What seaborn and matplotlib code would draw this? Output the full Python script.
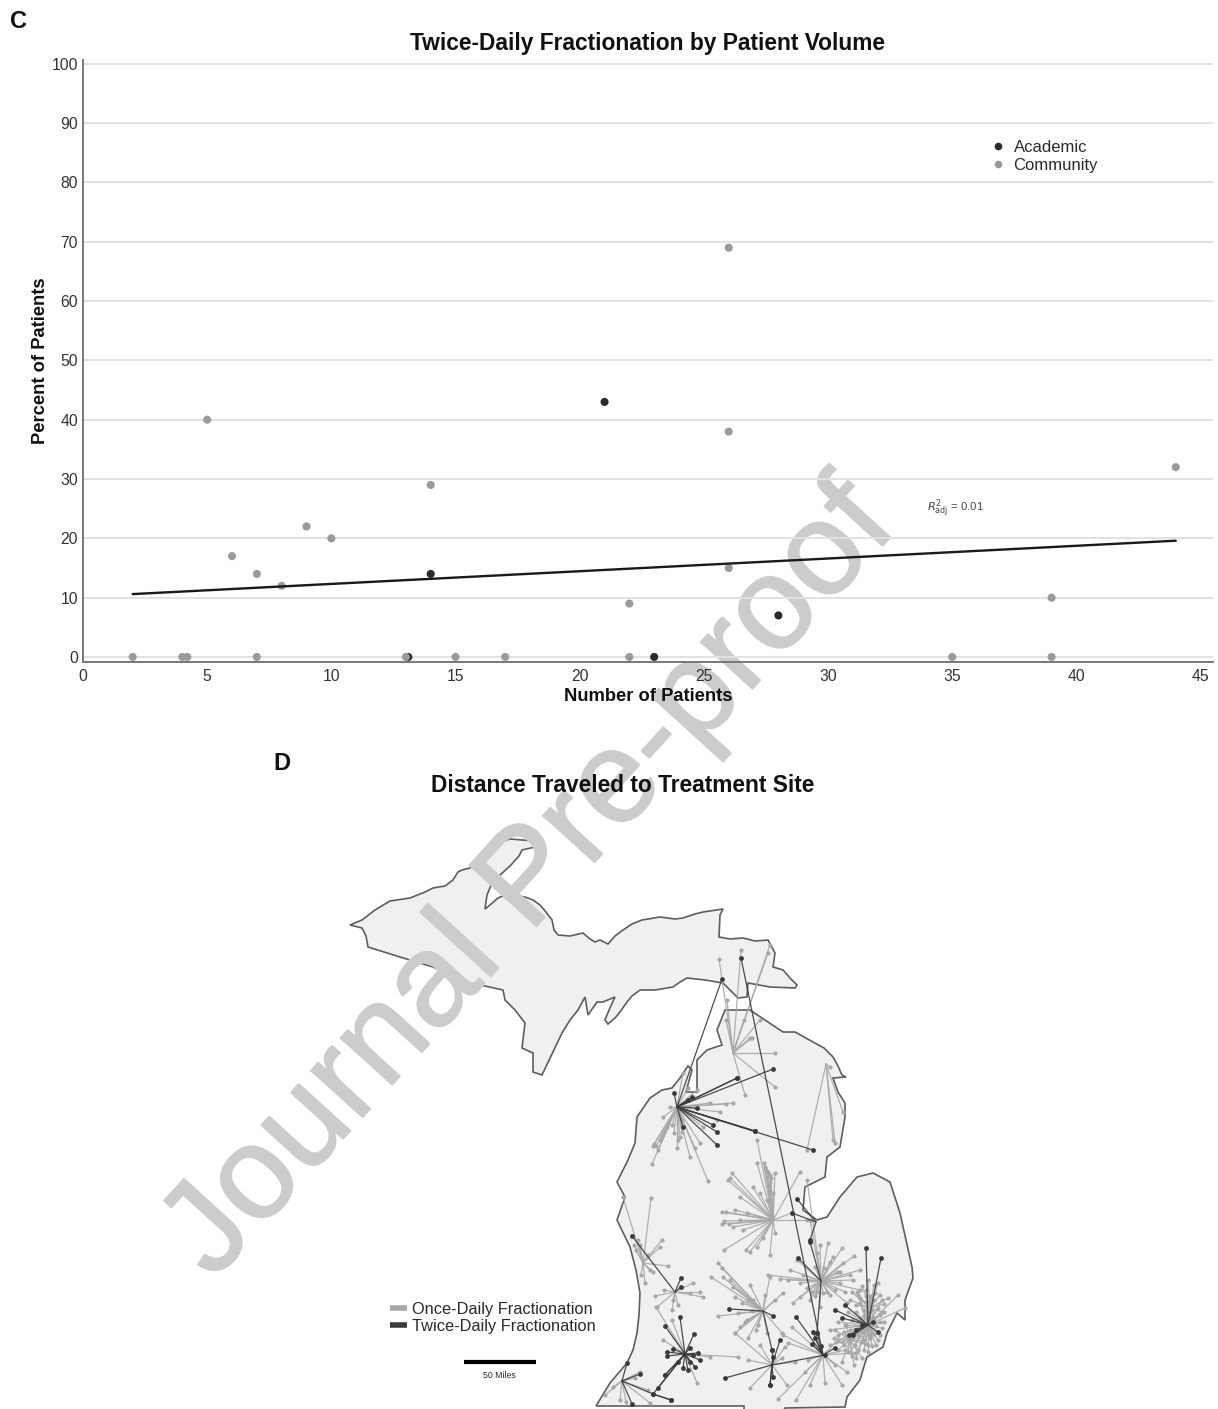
# Twice-daily fractionation: volume scatter (C) and travel map (D)

import numpy as np
import pandas as pd
import matplotlib
matplotlib.use('Agg')
import matplotlib.pyplot as plt
import matplotlib.patheffects as pe
import seaborn as sns
from matplotlib.lines import Line2D

# --- panel C data ---
academic_n = [13.1, 14, 21, 23, 28]
academic_pct = [0, 14, 43, 0, 7]
community_n = [2, 4, 4.2, 5, 6, 7, 7, 8, 9, 10, 13, 14, 15, 17, 22, 22, 26, 26, 26, 35, 39, 39, 44]
community_pct = [0, 0, 0, 40, 17, 14, 0, 12, 22, 20, 0, 29, 0, 0, 9, 0, 69, 38, 15, 0, 10, 0, 32]
fit_n = [2, 44]
fit_pct = [10.6, 19.6]
x_ticks = [0, 5, 10, 15, 20, 25, 30, 35, 40, 45]
y_ticks = [0, 10, 20, 30, 40, 50, 60, 70, 80, 90, 100]

# --- panel D data (map coordinates) ---
upper_peninsula = [
    (350, 925), (362, 920), (375, 910), (390, 901), (410, 898), (425, 892), (433, 888), (445, 886), (453, 880),
    (458, 872), (462, 870), (470, 868), (477, 862), (483, 852), (490, 847), (500, 842), (510, 839),
    (535, 841), (535, 847), (522, 850), (519, 856), (510, 866), (500, 875), (492, 883), (487, 895), (485, 909),
    (490, 905), (498, 898), (505, 895), (525, 897), (533, 900), (540, 905), (546, 912), (552, 920), (554, 930),
    (558, 935), (570, 936), (583, 933), (590, 939), (595, 942), (600, 940), (608, 944), (615, 936), (623, 930),
    (632, 924), (642, 920), (660, 917), (675, 919), (683, 918), (695, 914), (703, 912), (723, 909),
    (720, 915), (719, 937), (730, 939), (743, 938), (755, 941), (768, 940), (775, 953), (773, 967), (783, 970),
    (790, 978), (797, 985), (795, 988), (770, 987), (748, 983), (747, 997), (738, 998), (730, 990), (723, 983),
    (705, 980), (687, 978), (680, 982), (673, 987), (655, 990), (640, 990), (632, 996), (627, 1002),
    (620, 1012), (615, 1018), (608, 1024), (605, 1020), (609, 1010), (615, 997), (603, 1002), (597, 1002),
    (588, 1015), (585, 997), (578, 1010), (570, 1020),
    (562, 1033), (552, 1054), (542, 1075), (533, 1072), (533, 1053), (522, 1048), (525, 1023), (515, 1010),
    (505, 1000), (503, 990), (485, 986), (467, 983), (450, 976), (433, 967), (400, 957), (368, 947), (366, 936),
    (362, 928),
]
lower_peninsula = [
    (750, 1010), (765, 1020), (783, 1032), (795, 1032), (813, 1042), (824, 1048), (833, 1057), (838, 1066),
    (842, 1075), (846, 1077), (833, 1078), (838, 1092), (845, 1103),
    (845, 1117), (842, 1135), (840, 1147), (827, 1157), (825, 1177), (805, 1187), (803, 1210), (817, 1220),
    (827, 1217), (840, 1197),
    (857, 1177), (873, 1173), (890, 1182), (900, 1213), (912, 1267), (913, 1278), (905, 1300), (905, 1320),
    (897, 1313), (887, 1333), (883, 1347), (867, 1357), (865, 1363), (860, 1380), (847, 1397), (845, 1407),
    (785, 1408), (783, 1412), (744, 1412), (744, 1406), (596, 1406), (610, 1383), (627, 1363), (633, 1350),
    (637, 1333), (639, 1315),
    (640, 1293), (636, 1270), (630, 1247), (617, 1220), (625, 1197), (617, 1182), (628, 1160), (635, 1143),
    (637, 1117), (650, 1098), (662, 1090), (672, 1088), (680, 1078), (688, 1066), (692, 1070), (686, 1092),
    (697, 1092), (697, 1060), (707, 1050), (722, 1045), (717, 1030), (725, 1010),
]

traverse_hub = (677, 1107)
traverse_once = [(733, 1103), (720, 1112), (708, 1181), (690, 1157), (677, 1148), (652, 1164), (653, 1146), (663, 1117),
                 (680, 1137), (695, 1148), (688, 1088), (683, 1073), (670, 1107), (667, 1127), (660, 1140), (682, 1120),
                 (697, 1090), (710, 1103), (678, 1140), (717, 1120), (703, 1127), (658, 1150), (672, 1125),
                 (656, 1146), (654, 1144), (664, 1132), (662, 1136), (674, 1133), (682, 1132), (700, 1143), (726, 1104)]
traverse_twice = [(773, 1069), (737, 1078), (688, 1100), (697, 1108), (755, 1131), (813, 1150), (717, 1132),
                  (717, 1145), (683, 1127), (674, 1093), (722, 979), (755, 1131), (737, 1078), (713, 1125), (692, 1097)]
petoskey_hub = (733, 1053)
petoskey_once = [(775, 1053), (775, 1087), (745, 1095), (752, 1038), (727, 1000), (719, 959), (768, 953), (741, 950),
                 (770, 945), (750, 1038), (760, 1020), (726, 1020), (744, 1020)]
alpena_hub = (826, 1064)
alpena_once = [(843, 1112), (835, 1143), (830, 1067), (833, 1140), (807, 1150)]
midland_hub = (773, 1220)
midland_once = [(757, 1163), (765, 1167), (775, 1173), (767, 1177), (732, 1173), (728, 1180), (735, 1210), (722, 1212),
                (722, 1224), (724, 1250), (750, 1252), (757, 1247), (770, 1255), (775, 1233), (763, 1238), (743, 1230),
                (800, 1172), (760, 1193), (753, 1187), (770, 1182), (773, 1193), (740, 1197), (747, 1213), (733, 1227),
                (807, 1220), (792, 1213), (757, 1140), (767, 1200), (766, 1170), (768, 1172), (770, 1175), (771, 1178),
                (764, 1163), (769, 1185), (726, 1212), (729, 1224), (724, 1221), (746, 1250), (740, 1220), (730, 1178)]
saginaw_hub = (821, 1281)
saginaw_once = [(768, 1275), (780, 1279), (820, 1245), (842, 1248), (854, 1256), (843, 1263), (860, 1270), (853, 1280),
                (860, 1290), (840, 1283), (847, 1303), (820, 1307), (810, 1300), (800, 1297), (793, 1303), (797, 1260),
                (833, 1257), (828, 1243), (803, 1275), (790, 1270), (817, 1292), (823, 1293), (830, 1295), (815, 1267),
                (837, 1272), (817, 1253), (810, 1220), (807, 1180), (812, 1292), (815, 1296), (827, 1292), (835, 1290),
                (845, 1292), (850, 1275), (840, 1272), (788, 1280), (800, 1283), (807, 1288), (824, 1268), (830, 1262)]
saginaw_twice = [(810, 1242), (798, 1258), (817, 1333)]
baycity_hub = (816, 1222)
baycity_twice = [(797, 1199), (792, 1213), (810, 1240)]
muskegon_hub = (643, 1263)
muskegon_once = [(623, 1197), (651, 1198), (662, 1240), (660, 1247), (668, 1266), (645, 1283), (653, 1272), (640, 1245),
                 (636, 1250), (648, 1255), (650, 1270), (638, 1240), (634, 1245), (641, 1275)]
grandrapids_hub = (675, 1292)
grandrapids_once = [(655, 1296), (703, 1297), (693, 1283), (700, 1292), (673, 1300), (678, 1305), (657, 1307),
                    (664, 1290), (690, 1293), (672, 1310)]
grandrapids_twice = [(681, 1278), (681, 1287), (632, 1236)]
kalamazoo_hub = (685, 1354)
kalamazoo_once = [(738, 1357), (697, 1383), (663, 1340), (656, 1307), (672, 1320), (710, 1357)]
kalamazoo_twice = [(680, 1317), (665, 1326), (694, 1334), (673, 1349), (667, 1352), (667, 1356), (690, 1348),
                   (700, 1360), (693, 1355), (688, 1370), (683, 1368), (695, 1367), (665, 1375), (653, 1394),
                   (665, 1375), (658, 1388), (678, 1362), (690, 1362), (698, 1353)]
benton_hub = (622, 1381)
benton_once = [(620, 1400), (613, 1387), (648, 1390), (650, 1403), (635, 1378), (640, 1372), (626, 1402), (605, 1395)]
benton_twice = [(640, 1374), (627, 1363), (653, 1394), (632, 1404)]
southwest_hub = (653, 1394)
southwest_twice = [(671, 1400), (671, 1400)]
lansing_hub = (763, 1311)
lansing_once = [(718, 1263), (711, 1277), (723, 1277), (718, 1316), (735, 1333), (748, 1338), (740, 1327), (747, 1320),
                (738, 1313), (742, 1303), (750, 1285), (765, 1295), (770, 1277), (733, 1287), (753, 1300), (767, 1333),
                (782, 1333), (783, 1293), (756, 1330), (752, 1311), (722, 1268), (730, 1280), (745, 1322), (758, 1325),
                (735, 1297), (748, 1300), (775, 1300)]
lansing_twice = [(729, 1309), (773, 1316), (772, 1350)]
jackson_hub = (772, 1365)
jackson_once = [(785, 1347), (750, 1388), (787, 1385), (748, 1360), (795, 1362), (735, 1333), (760, 1345), (782, 1358)]
jackson_twice = [(725, 1378), (770, 1385), (773, 1377), (773, 1357), (772, 1350), (780, 1340), (770, 1385), (825, 1355)]
annarbor_hub = (823, 1355)
annarbor_once = [(825, 1383), (842, 1385), (796, 1400), (778, 1399), (805, 1372), (847, 1372), (792, 1327), (783, 1335),
                 (788, 1343), (808, 1360), (835, 1365), (810, 1385), (838, 1340), (845, 1350), (855, 1353)]
annarbor_twice = [(741, 958), (796, 1317), (815, 1338), (821, 1346), (812, 1344), (835, 1348), (817, 1333), (813, 1332)]
detroit_hub = (868, 1325)
detroit_once = [(898, 1295), (905, 1308), (882, 1300), (857, 1292), (860, 1303), (880, 1315), (884, 1322), (880, 1335),
                (876, 1345), (864, 1350), (855, 1345), (845, 1325), (838, 1335), (830, 1330), (848, 1312), (852, 1320),
                (860, 1318), (872, 1310), (878, 1308), (866, 1302), (870, 1338), (858, 1335), (842, 1342), (876, 1326),
                (862, 1332), (856, 1358), (850, 1352), (884, 1312), (874, 1300), (868, 1312), (862, 1342), (838, 1322),
                (878, 1340), (874, 1334), (882, 1328), (866, 1344), (852, 1338), (846, 1336), (836, 1342), (872, 1318),
                (864, 1310), (856, 1312), (850, 1330), (844, 1345), (858, 1350), (868, 1352), (872, 1346), (880, 1322)]
detroit_twice = [(866, 1248), (881, 1258), (878, 1332), (849, 1335), (853, 1335), (862, 1325), (842, 1318), (835, 1310),
                 (856, 1330), (845, 1305), (873, 1322)]
flint_hub = (870, 1308)
flint_once = [(866, 1290), (874, 1285), (860, 1298), (880, 1295), (856, 1305), (868, 1280), (850, 1300), (884, 1304),
              (866, 1296), (862, 1286), (870, 1296), (875, 1293), (858, 1295), (888, 1298), (878, 1283), (852, 1292),
              (866, 1302), (864, 1316), (874, 1318), (882, 1312), (872, 1332), (860, 1328)]
dearborn_hub = (850, 1340)
dearborn_once = [(834, 1338), (838, 1350), (842, 1362), (854, 1365), (862, 1358), (868, 1345), (870, 1335), (860, 1328),
                 (846, 1325), (835, 1330), (858, 1350), (852, 1356), (844, 1332), (830, 1345), (864, 1340), (848, 1352)]

hubs_once = [(traverse_hub, traverse_once), (petoskey_hub, petoskey_once), (alpena_hub, alpena_once),
             (midland_hub, midland_once), (saginaw_hub, saginaw_once), (muskegon_hub, muskegon_once),
             (grandrapids_hub, grandrapids_once), (kalamazoo_hub, kalamazoo_once), (benton_hub, benton_once),
             (lansing_hub, lansing_once), (jackson_hub, jackson_once), (annarbor_hub, annarbor_once),
             (detroit_hub, detroit_once), (flint_hub, flint_once), (dearborn_hub, dearborn_once)]
hubs_twice = [(traverse_hub, traverse_twice), (saginaw_hub, saginaw_twice), (baycity_hub, baycity_twice),
              (grandrapids_hub, grandrapids_twice), (kalamazoo_hub, kalamazoo_twice),
              (benton_hub, benton_twice), (southwest_hub, southwest_twice), (lansing_hub, lansing_twice),
              (jackson_hub, jackson_twice), (annarbor_hub, annarbor_twice), (detroit_hub, detroit_twice)]

sns.set_theme(style="white")
plt.rcParams['font.family'] = ['Liberation Sans', 'DejaVu Sans']

W, H = 1218, 1409
TEXT = '#2a2a2a'
ONCE = '#a8a8a8'
TWICE = '#3a3a3a'
fig = plt.figure(figsize=(W / 100, H / 100), dpi=100)

# map layer uses picture coordinates over the whole figure
mp = fig.add_axes([0, 0, 1, 1])
mp.set_xlim(0, W)
mp.set_ylim(H, 0)
mp.axis('off')

for shape in (upper_peninsula, lower_peninsula):
    xs, ys = zip(*shape)
    mp.fill(xs, ys, facecolor='#f0f0f0', edgecolor='#5e5e5e', linewidth=1.2, zorder=1)

# watermark sits on the land fill, under the marks and the text
mp.text(531, 881, 'Journal Pre-proof', fontsize=95, color='#cccccc', rotation=47.7,
        rotation_mode='anchor', ha='center', va='center', zorder=1.5,
        path_effects=[pe.withStroke(linewidth=1.2, foreground='#cccccc')])


def segments(groups):
    rows = []
    for i, (hub, ends) in enumerate(groups):
        for j, end in enumerate(ends):
            rows.append({'seg': f'{i}-{j}', 'x': hub[0], 'y': hub[1], 'hub': True})
            rows.append({'seg': f'{i}-{j}', 'x': end[0], 'y': end[1], 'hub': False})
    return pd.DataFrame(rows)


once_df = segments(hubs_once)
twice_df = segments(hubs_twice)

for df, col, lw, ms, z in [(once_df, ONCE, 0.9, 9, 2), (twice_df, TWICE, 0.9, 12, 3)]:
    for _, seg in df.groupby('seg'):
        mp.plot(seg['x'], seg['y'], color=col, lw=lw, alpha=0.9, zorder=z)
    sns.scatterplot(data=df[~df['hub']], x='x', y='y', ax=mp, color=col, s=ms, linewidth=0, zorder=z, legend=False)
mp.set_xlim(0, W)
mp.set_ylim(H, 0)
mp.axis('off')

map_keys = [Line2D([], [], color=ONCE, lw=4, solid_capstyle='butt'),
            Line2D([], [], color=TWICE, lw=4, solid_capstyle='butt')]
mp.legend(map_keys, ['Once-Daily Fractionation', 'Twice-Daily Fractionation'], frameon=False,
          loc='upper left', bbox_to_anchor=(390 / W, 1 - 1302 / H), fontsize=11.8, labelcolor=TEXT,
          handlelength=1.05, handletextpad=0.3, labelspacing=0.1, borderpad=0, borderaxespad=0)

mp.plot([464, 536], [1362, 1362], color='black', lw=3, solid_capstyle='butt', zorder=4)
mp.text(499, 1375, '50 Miles', fontsize=6.3, color=TEXT, ha='center', va='center')
mp.text(10, 22, 'C', fontsize=17, fontweight='bold', color='#111111', va='center')
mp.text(273, 763, 'D', fontsize=17, fontweight='bold', color='#111111', va='center')
mp.text(623, 785, 'Distance Traveled to Treatment Site', fontsize=16.35, fontweight='bold', color='#111111',
        ha='center', va='center')

# panel C
ax = fig.add_axes([83 / W, 1 - 662 / H, (1213 - 83) / W, (662 - 60) / H])
ax.patch.set_alpha(0)
scatter_df = pd.DataFrame({
    'n': academic_n + community_n,
    'pct': academic_pct + community_pct,
    'type': ['Academic'] * len(academic_n) + ['Community'] * len(community_n),
})
ax.set_axisbelow(True)
ax.grid(axis='y', color='#e2e2e2', lw=1.4)
sns.scatterplot(data=scatter_df, x='n', y='pct', hue='type', hue_order=['Community', 'Academic'],
                palette={'Academic': '#2b2b2b', 'Community': '#9a9a9a'}, s=34, linewidth=0, ax=ax, legend=False,
                zorder=3)
sns.lineplot(x=fit_n, y=fit_pct, color='#1a1a1a', lw=1.7, ax=ax, zorder=4, errorbar=None)

ax.set_xlim(0, 45.5)
ax.set_ylim(-0.85, 100.65)
ax.set_xticks(x_ticks)
ax.set_yticks(y_ticks)
ax.tick_params(axis='both', labelsize=11.3, labelcolor='#333333', colors='#555555', length=0, pad=5)
ax.tick_params(axis='y', length=2.5, width=1, pad=1)
for side in ('top', 'right'):
    ax.spines[side].set_visible(False)
for side in ('left', 'bottom'):
    ax.spines[side].set_color('#777777')
    ax.spines[side].set_linewidth(1.4)
ax.set_xlabel('Number of Patients', fontsize=13.2, fontweight='bold', color='#111111', labelpad=3)
ax.set_ylabel('Percent of Patients', fontsize=13.2, fontweight='bold', color='#111111', labelpad=2)
ax.set_title('Twice-Daily Fractionation by Patient Volume', fontsize=16.4, fontweight='bold', color='#111111',
             x=0.5, pad=7)

ax.text(34.0, 25, r'$R^2_{\mathrm{adj}}$ = 0.01', fontsize=8.2, color='#444444', va='center')

keys = [Line2D([], [], marker='o', ls='', ms=5.5, color='#2b2b2b', mew=0),
        Line2D([], [], marker='o', ls='', ms=5.5, color='#9a9a9a', mew=0)]
ax.legend(keys, ['Academic', 'Community'], frameon=False, loc='upper left',
          bbox_to_anchor=((991 - 83) / (1213 - 83), 1 - (140 - 60) / (662 - 60)), fontsize=12, labelcolor=TEXT,
          handlelength=0.8, handletextpad=0.55, labelspacing=0.2, borderpad=0, borderaxespad=0)

fig.savefig('out.png', dpi=100)
